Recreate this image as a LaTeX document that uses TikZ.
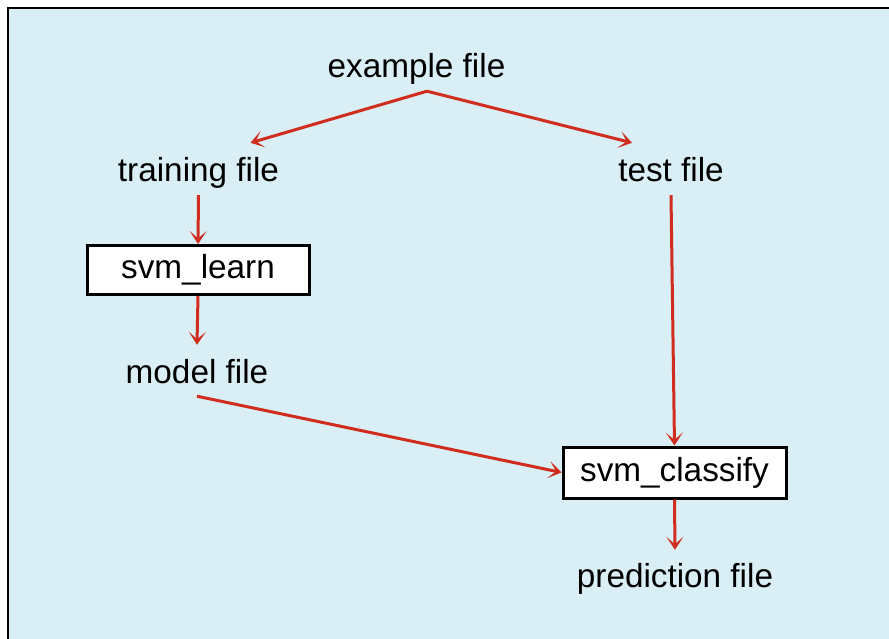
\documentclass[tikz,border=0pt]{standalone}
\usepackage{fontspec}
\setmainfont{Liberation Sans}
\usepackage{tikz}
\usetikzlibrary{arrows.meta}

\definecolor{panelblue}{RGB}{218,238,245}
\definecolor{flowred}{RGB}{208,45,30}

\begin{document}
\begin{tikzpicture}[x=1pt, y=-1pt,
    font=\fontsize{33.3}{40}\selectfont,
    label/.style={anchor=base, inner xsep=0pt, inner ysep=6pt, text height=22pt, text depth=7pt},
    prog/.style={draw=black, fill=white, line width=3pt, minimum height=49pt, inner sep=0pt},
    flow/.style={draw=flowred, line width=3pt, -{Stealth[length=13pt, width=17pt, inset=7.5pt]}}]
    \useasboundingbox (0,0) rectangle (889,639);
    \fill[panelblue] (8,8) rectangle (889,639);
    \draw[line width=2.6pt] (8,639) -- (8,8) -- (889,8);
    % files and programs
    \node[label] (ex) at (416.5,78) {example file};
    \node[label] (train) at (198.5,182) {training file};
    \node[label] (test) at (671,182) {test file};
    \node[prog, minimum width=222pt] (learn) at (198,270) {svm\_learn};
    \node[label] (model) at (197,383) {model file};
    \node[prog, minimum width=223pt, minimum height=51pt] (classify) at (674.5,472.5) {svm\_classify};
    \node[label] (pred) at (675,587) {prediction file};
    % data flow
    \draw[flow] ([xshift=10.5pt]ex.south) -- ([shift={(52,-11)}]train.north);
    \draw[flow] ([xshift=10.5pt]ex.south) -- ([shift={(-39,-11)}]test.north);
    \draw[flow] (train.south) -- (learn.north);
    \draw[flow] (learn.south) -- ([yshift=10pt]model.north);
    \draw[flow] (model.south) -- (classify.west);
    \draw[flow] (test.south) -- (classify.north);
    \draw[flow] (classify.south) -- ([yshift=9pt]pred.north);
\end{tikzpicture}
\end{document}
